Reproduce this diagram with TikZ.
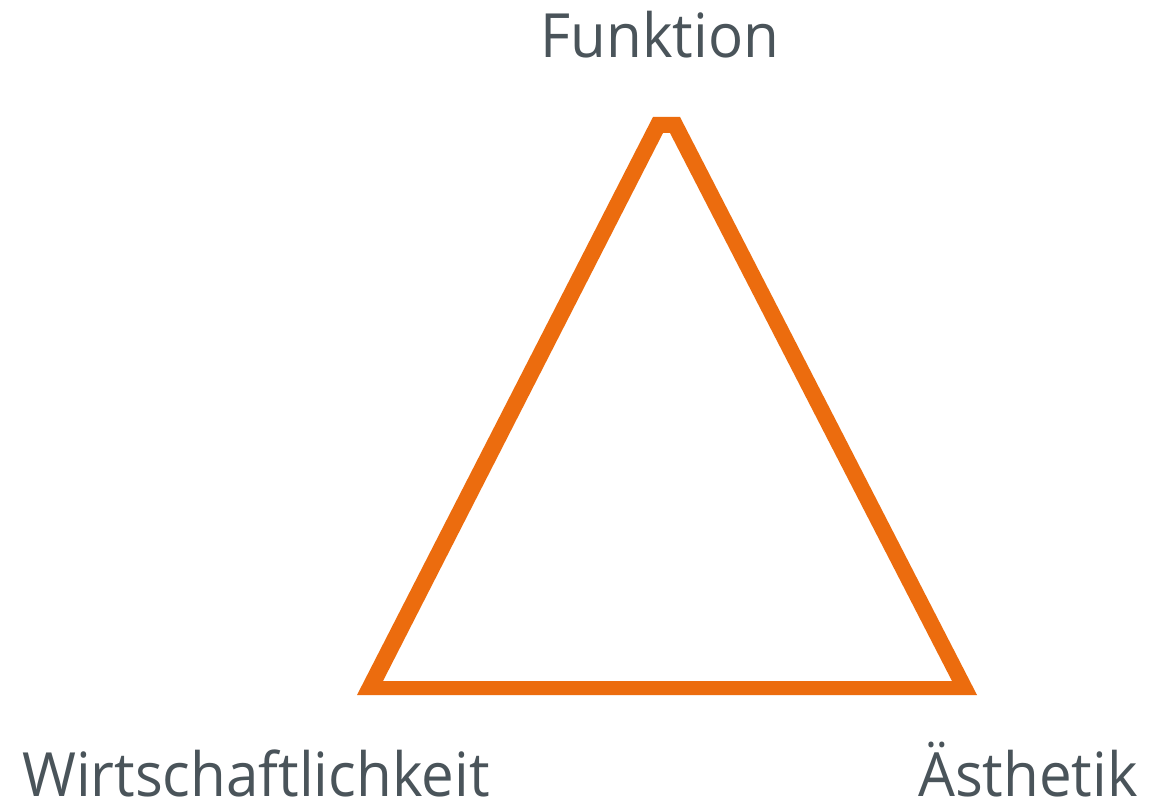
\documentclass[tikz,border=0pt]{standalone}
\usepackage{fontspec}
\setmainfont{Open Sans}
\definecolor{tri}{HTML}{EC6C0E}
\definecolor{txt}{HTML}{4A545A}
\begin{document}
\begin{tikzpicture}[x=1pt,y=-1pt,
  lbl/.style={inner sep=0pt,text=txt,text depth=0pt,xscale=0.955,font=\fontsize{61}{70}\selectfont}]
\useasboundingbox[fill=white] (0,0) rectangle (1151,802);
\fill[tri,even odd rule] (653,117) -- (680,117) -- (977,695) -- (357,695) -- cycle
  (663,133) -- (670,133) -- (952,681) -- (383,681) -- cycle;
\node[lbl,anchor=base] (f) at (660,58) {Funktion};
\node[lbl,anchor=base west] (w) at (22,796) {Wirtschaftlichkeit};
\node[lbl,anchor=base east] (a) at (1138,796) {Ästhetik};
\end{tikzpicture}
\end{document}
